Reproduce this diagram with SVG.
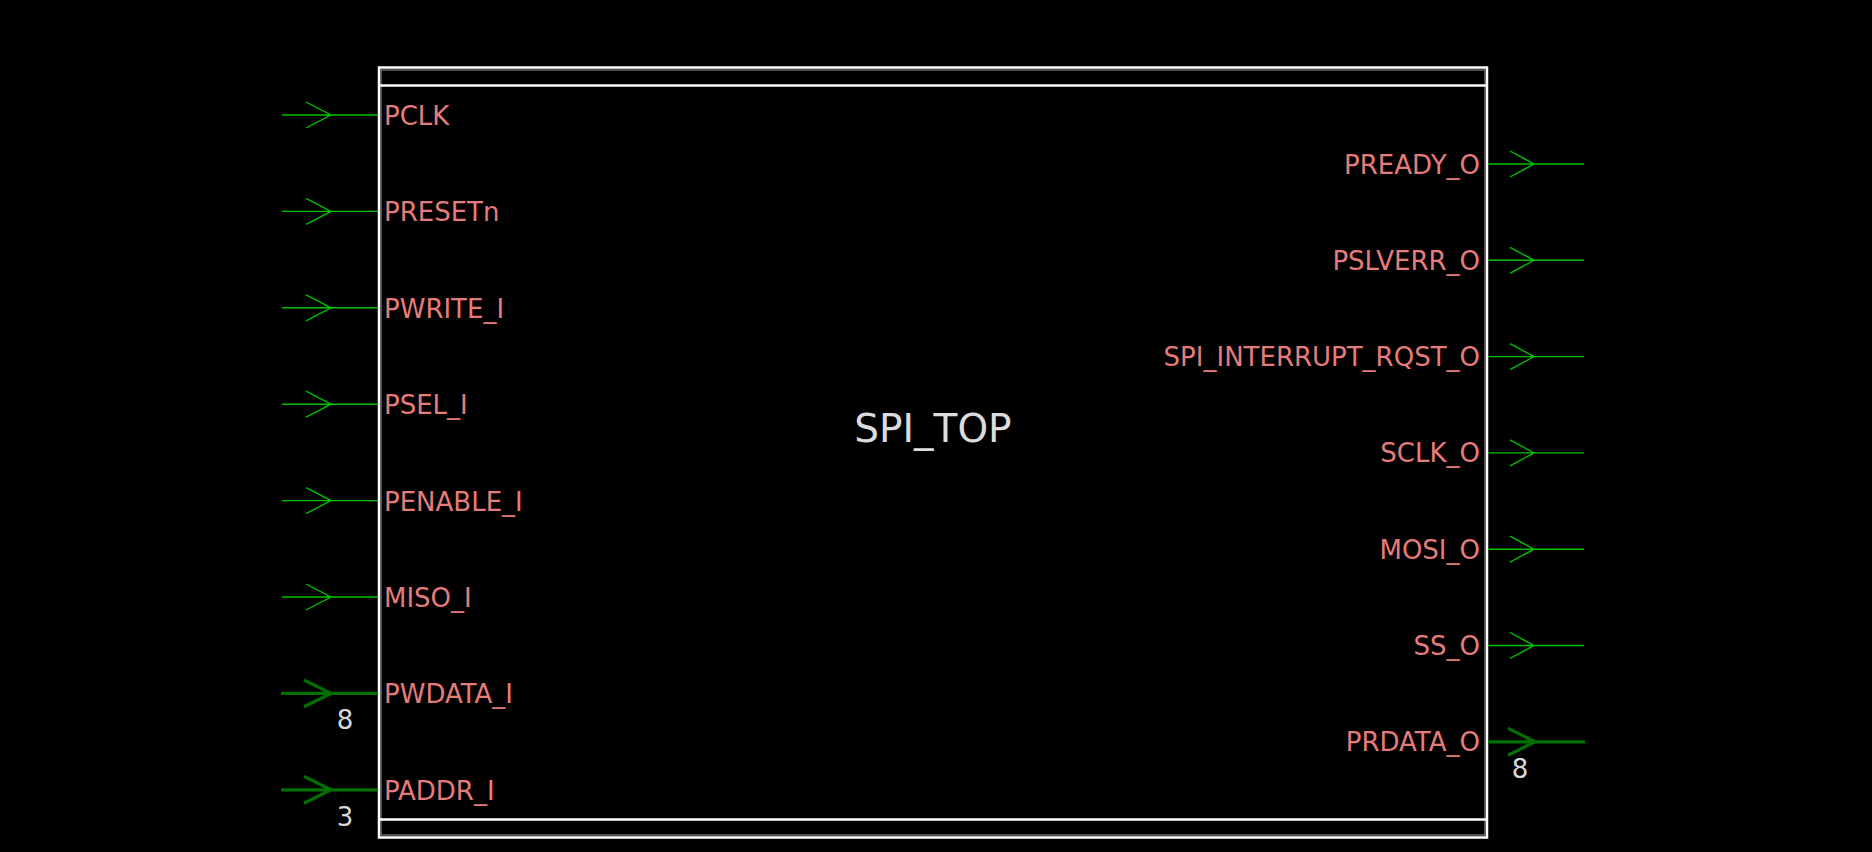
<svg xmlns="http://www.w3.org/2000/svg" width="1872" height="852" viewBox="0 0 1872 852">
<style>
.bg{fill:#000}
.box{fill:none;stroke:#ffffff;stroke-width:2.5}
.boxi{fill:none;stroke:#9a9a9a;stroke-width:1}
.w{stroke:#00c000;stroke-width:1.4;fill:none}
.b{stroke:#007000;stroke-width:3.2;fill:none}
.lbl{font-family:"DejaVu Sans",sans-serif;font-size:26px;fill:#e57c7c}
.r{text-anchor:end}
.num{font-family:"DejaVu Sans",sans-serif;font-size:26px;fill:#d8d8d8;text-anchor:middle}
.title{font-family:"DejaVu Sans",sans-serif;font-size:39px;fill:#dcdcdc;text-anchor:middle}
</style>
<rect class="bg" x="0" y="0" width="1872" height="852"/>
<g id="SPI_TOP">
<rect class="box" x="379" y="67.5" width="1108" height="770"/>
<rect class="boxi" x="381" y="70" width="1104" height="765"/>
<line class="box" x1="380" y1="85.5" x2="1486" y2="85.5"/>
<line class="box" x1="380" y1="819.5" x2="1486" y2="819.5"/>
<text class="title" x="933" y="442">SPI_TOP</text>
</g>
<g id="connectors">
<path class="w" d="M282 115H378M306 102L331 115L306 128"/>
<path class="w" d="M282 211.4H378M306 198.4L331 211.4L306 224.4"/>
<path class="w" d="M282 307.8H378M306 294.8L331 307.8L306 320.8"/>
<path class="w" d="M282 404.2H378M306 391.2L331 404.2L306 417.2"/>
<path class="w" d="M282 500.6H378M306 487.6L331 500.6L306 513.6"/>
<path class="w" d="M282 597H378M306 584L331 597L306 610"/>
<path class="b" d="M281 693.4H378M304 680L331 693.4L304 706.8"/>
<path class="b" d="M281 789.8H378M304 776.4L331 789.8L304 803.2"/>
<path class="w" d="M1488 164H1584M1510 151L1534 164L1510 177"/>
<path class="w" d="M1488 260.3H1584M1510 247.3L1534 260.3L1510 273.3"/>
<path class="w" d="M1488 356.6H1584M1510 343.6L1534 356.6L1510 369.6"/>
<path class="w" d="M1488 452.9H1584M1510 439.9L1534 452.9L1510 465.9"/>
<path class="w" d="M1488 549.2H1584M1510 536.2L1534 549.2L1510 562.2"/>
<path class="w" d="M1488 645.5H1584M1510 632.5L1534 645.5L1510 658.5"/>
<path class="b" d="M1488 741.8H1585M1508 728.4L1535 741.8L1508 755.2"/>
</g>
<g id="pins-left">
<text class="lbl" x="384" y="125">PCLK</text>
<text class="lbl" x="384" y="221.4">PRESETn</text>
<text class="lbl" x="384" y="317.8">PWRITE_I</text>
<text class="lbl" x="384" y="414.2">PSEL_I</text>
<text class="lbl" x="384" y="510.6">PENABLE_I</text>
<text class="lbl" x="384" y="607">MISO_I</text>
<text class="lbl" x="384" y="703.4">PWDATA_I</text>
<text class="lbl" x="384" y="799.8">PADDR_I</text>
<text class="num" x="345" y="729">8</text>
<text class="num" x="345" y="826">3</text>
</g>
<g id="pins-right">
<text class="lbl r" x="1480" y="173.5">PREADY_O</text>
<text class="lbl r" x="1480" y="269.8">PSLVERR_O</text>
<text class="lbl r" x="1480" y="366.1">SPI_INTERRUPT_RQST_O</text>
<text class="lbl r" x="1480" y="462.4">SCLK_O</text>
<text class="lbl r" x="1480" y="558.7">MOSI_O</text>
<text class="lbl r" x="1480" y="655">SS_O</text>
<text class="lbl r" x="1480" y="751.3">PRDATA_O</text>
<text class="num" x="1520" y="778">8</text>
</g>
</svg>
